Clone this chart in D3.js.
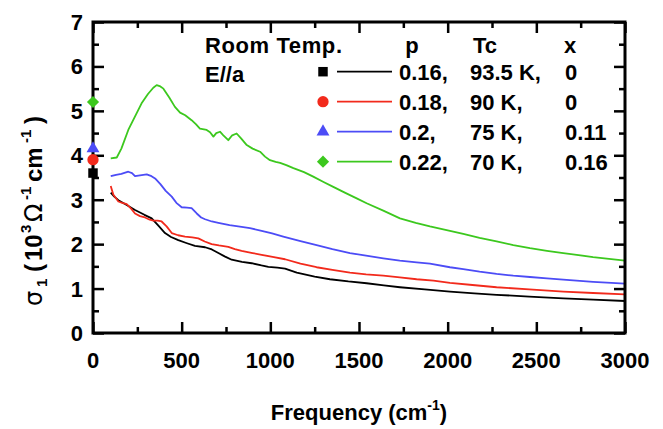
<!DOCTYPE html>
<html><head><meta charset="utf-8">
<script src="https://cdn.jsdelivr.net/npm/d3@7"></script>
<style>
html,body{margin:0;padding:0;background:#fff;}
svg text{font-family:"Liberation Sans",Arial,sans-serif;font-weight:bold;fill:#000;}
</style></head>
<body><svg id="c" width="663" height="429"></svg>
<script>
// ---- data ----
const freqBlack = [100,120,143,190,237,290,331,370,406,440,481,530,575,632,670,707,745,782,840,895,950,989,1040,1083,1149,1250,1336,1440,1543,1640,1731,1870,2013,2150,2276,2460,2652,2820,3000];
const sigmaBlack = [3.16,3.07,2.99,2.88,2.77,2.66,2.58,2.41,2.25,2.16,2.09,2.02,1.96,1.93,1.88,1.80,1.72,1.65,1.60,1.57,1.52,1.49,1.47,1.45,1.36,1.27,1.21,1.16,1.12,1.07,1.03,0.98,0.93,0.89,0.86,0.82,0.78,0.75,0.72];

const freqRed = [100,108,115,143,165,190,215,237,265,293,320,340,365,387,415,444,480,519,560,594,630,669,710,763,800,838,900,951,1020,1083,1170,1261,1350,1449,1540,1637,1730,1825,1920,2013,2140,2276,2460,2652,2820,3000];
const sigmaRed = [3.31,3.20,3.11,2.96,2.93,2.90,2.80,2.69,2.63,2.60,2.55,2.53,2.53,2.51,2.40,2.25,2.20,2.17,2.15,2.13,2.06,2.00,1.97,1.94,1.89,1.85,1.80,1.76,1.71,1.66,1.56,1.48,1.42,1.36,1.32,1.29,1.25,1.21,1.18,1.13,1.08,1.03,0.98,0.93,0.90,0.87];

const freqBlue = [100,130,160,199,220,237,265,303,330,350,380,410,444,470,500,530,556,585,610,632,670,707,770,838,885,951,1010,1073,1170,1261,1350,1449,1540,1637,1730,1825,1900,2013,2088,2180,2276,2370,2464,2560,2652,2820,3000];
const sigmaBlue = [3.53,3.56,3.58,3.63,3.60,3.53,3.55,3.57,3.53,3.48,3.35,3.20,3.07,2.93,2.83,2.82,2.81,2.69,2.60,2.56,2.51,2.48,2.43,2.39,2.36,2.30,2.24,2.17,2.07,1.98,1.89,1.80,1.74,1.68,1.63,1.59,1.56,1.48,1.44,1.38,1.33,1.29,1.26,1.23,1.20,1.15,1.11];

const freqGreen = [100,134,160,199,240,274,310,340,359,380,397,430,462,491,520,556,580,603,641,660,679,695,716,735,763,785,810,835,867,900,942,970,998,1030,1055,1090,1130,1190,1242,1300,1355,1420,1487,1543,1640,1731,1820,1900,2013,2088,2180,2276,2370,2464,2560,2652,2820,3000];
const sigmaGreen = [3.93,3.95,4.15,4.57,4.90,5.17,5.38,5.52,5.58,5.55,5.50,5.30,5.09,4.96,4.90,4.79,4.70,4.60,4.57,4.52,4.42,4.50,4.53,4.45,4.34,4.45,4.49,4.38,4.23,4.15,4.08,3.97,3.89,3.85,3.83,3.78,3.71,3.62,3.52,3.40,3.29,3.16,3.03,2.92,2.75,2.58,2.48,2.40,2.30,2.23,2.14,2.06,1.98,1.91,1.85,1.80,1.71,1.63];

// room-temperature DC values plotted at zero frequency
const dcValues = [3.6, 3.9, 4.15, 5.2];

const seriesP = ["0.16,", "0.18,", "0.2,", "0.22,"];
const seriesTc = ["93.5 K,", "90 K,", "75 K,", "70 K,"];
const seriesX = ["0", "0", "0.11", "0.16"];
const seriesColors = ["#000000", "#f22a1c", "#4c4cf6", "#3cc81e"];
const seriesSymbols = ["square", "circle", "triangle", "diamond"];

const xMajorTicks = [0,500,1000,1500,2000,2500,3000];
const xMinorTicks = [250,750,1250,1750,2250,2750];
const yMajorTicks = [0,1,2,3,4,5,6,7];
const yMinorTicks = [0.5,1.5,2.5,3.5,4.5,5.5,6.5];

// ---- layout ----
const L = 93, R = 625, T = 22, B = 333;
const svg = d3.select("#c");
const x = d3.scaleLinear().domain([0,3000]).range([L,R]);
const y = d3.scaleLinear().domain([0,7]).range([B,T]);

const series = [
  {f: freqBlack, v: sigmaBlack},
  {f: freqRed, v: sigmaRed},
  {f: freqBlue, v: sigmaBlue},
  {f: freqGreen, v: sigmaGreen}
];

// curves
const line = d3.line().x(d => x(d[0])).y(d => y(d[1]));
series.forEach((s, i) => {
  svg.append("path")
    .datum(s.f.map((f, k) => [f, s.v[k]]))
    .attr("d", line)
    .attr("fill", "none")
    .attr("stroke", seriesColors[i])
    .attr("stroke-width", 1.8)
    .attr("stroke-linejoin", "round");
});

// axes ticks (inward)
function tickAxis(axisFn, scale, vals, size, transform) {
  const g = svg.append("g").attr("transform", transform)
    .call(axisFn(scale).tickValues(vals).tickSizeInner(size).tickSizeOuter(0).tickFormat(""));
  g.select(".domain").remove();
  g.selectAll(".tick line").attr("stroke", "#000").attr("stroke-width", 2.5);
  return g;
}
const MAJ = 11, MIN = 6;
tickAxis(d3.axisBottom, x, xMajorTicks, -MAJ, `translate(0,${B})`);
tickAxis(d3.axisBottom, x, xMinorTicks, -MIN, `translate(0,${B})`);
tickAxis(d3.axisTop, x, xMajorTicks, -MAJ, `translate(0,${T})`);
tickAxis(d3.axisTop, x, xMinorTicks, -MIN, `translate(0,${T})`);
tickAxis(d3.axisLeft, y, yMajorTicks, -MAJ, `translate(${L},0)`);
tickAxis(d3.axisLeft, y, yMinorTicks, -MIN, `translate(${L},0)`);
tickAxis(d3.axisRight, y, yMajorTicks, -MAJ, `translate(${R},0)`);
tickAxis(d3.axisRight, y, yMinorTicks, -MIN, `translate(${R},0)`);

// frame
svg.append("rect").attr("x", L).attr("y", T).attr("width", R - L).attr("height", B - T)
  .attr("fill", "none").attr("stroke", "#000").attr("stroke-width", 3);

// tick labels
svg.append("g").selectAll("text").data(xMajorTicks).join("text")
  .attr("x", d => x(d)).attr("y", 368).attr("text-anchor", "middle")
  .attr("font-size", 22).text(d => d);
svg.append("g").selectAll("text").data(yMajorTicks).join("text")
  .attr("x", 83).attr("y", d => y(d) + 8).attr("text-anchor", "end")
  .attr("font-size", 22).text(d => d);

// symbols
function symPath(s) {
  if (s === "square") return d3.symbol().type(d3.symbolSquare).size(90)();
  if (s === "circle") return d3.symbol().type(d3.symbolCircle).size(100)();
  if (s === "triangle") return d3.symbol().type(d3.symbolTriangle).size(72)();
  return d3.symbol().type(d3.symbolSquare).size(74)();
}
function drawSym(cx, cy, i) {
  const s = seriesSymbols[i];
  svg.append("path")
    .attr("d", symPath(s))
    .attr("transform", `translate(${cx},${cy})` + (s === "diamond" ? " rotate(45)" : ""))
    .attr("fill", seriesColors[i]);
}
// DC points at zero frequency
dcValues.forEach((v, i) => drawSym(x(0), y(v), i));

// axis titles
const xt = svg.append("text").attr("x", (L + R) / 2).attr("y", 420)
  .attr("text-anchor", "middle").attr("font-size", 22);
xt.append("tspan").text("Frequency (cm");
xt.append("tspan").attr("font-size", 14).attr("dy", -10).text("-1");
xt.append("tspan").attr("dy", 10).text(")");

// y title, rotated; tspan x = -(screen y where the piece starts)
const yt = svg.append("text").attr("transform", "translate(42,0) rotate(-90)")
  .attr("font-size", 24);
const yParts = [
  {t: "σ", at: 306, dy: 0, fs: 24, sym: true},
  {t: "1", at: 287, dy: 5, fs: 15},
  {t: "(", at: 272, dy: -5, fs: 24},
  {t: "10", at: 261, dy: 0, fs: 24},
  {t: "3", at: 233, dy: -11, fs: 15},
  {t: "Ω", at: 222, dy: 11, fs: 24, sym: true},
  {t: "-1", at: 200, dy: -11, fs: 15},
  {t: "cm", at: 182, dy: 11, fs: 24},
  {t: "-1", at: 143, dy: -11, fs: 15},
  {t: ")", at: 124, dy: 11, fs: 24}
];
yParts.forEach(p => {
  const ts = yt.append("tspan").attr("x", -p.at).attr("dy", p.dy).attr("font-size", p.fs).text(p.t);
  if (p.sym) ts.attr("font-weight", "normal").attr("font-family", "DejaVu Sans");
});

// legend
svg.append("text").attr("x", 205).attr("y", 53).attr("font-size", 22).attr("letter-spacing", 0.6).text("Room Temp.");
svg.append("text").attr("x", 205).attr("y", 82).attr("font-size", 22).text("E//a");
svg.append("text").attr("x", 412).attr("y", 53).attr("font-size", 22).attr("text-anchor", "middle").text("p");
svg.append("text").attr("x", 485).attr("y", 53).attr("font-size", 22).attr("text-anchor", "middle").text("Tc");
svg.append("text").attr("x", 570).attr("y", 53).attr("font-size", 22).attr("text-anchor", "middle").text("x");
seriesP.forEach((p, i) => {
  const cy = 71.7 + i * 30;
  drawSym(323, cy, i);
  svg.append("line").attr("x1", 337).attr("x2", 392).attr("y1", cy).attr("y2", cy)
    .attr("stroke", seriesColors[i]).attr("stroke-width", 1.8);
  svg.append("text").attr("x", 399).attr("y", cy + 8).attr("font-size", 22).text(p);
  svg.append("text").attr("x", 470).attr("y", cy + 8).attr("font-size", 22).text(seriesTc[i]);
  svg.append("text").attr("x", 565).attr("y", cy + 8).attr("font-size", 22).text(seriesX[i]);
});
</script></body></html>
